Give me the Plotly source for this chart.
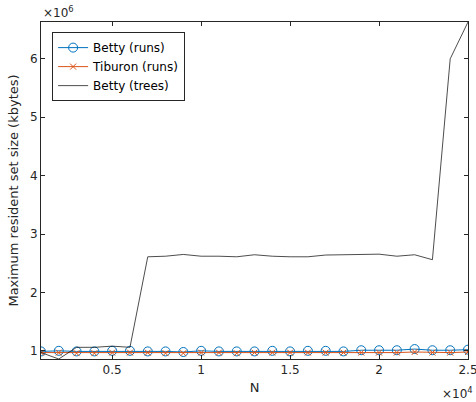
import plotly.graph_objects as go

# Problem sizes
N = [1000, 2000, 3000, 4000, 5000, 6000, 7000, 8000, 9000, 10000,
     11000, 12000, 13000, 14000, 15000, 16000, 17000, 18000, 19000, 20000,
     21000, 22000, 23000, 24000, 25000]

# Maximum resident set size (kbytes)
betty_runs = [0.99e6, 1.00e6, 0.99e6, 0.99e6, 1.00e6, 1.00e6, 0.99e6, 0.99e6, 0.98e6, 1.00e6,
              0.99e6, 0.99e6, 0.99e6, 1.00e6, 0.99e6, 1.00e6, 1.00e6, 0.99e6, 1.01e6, 1.01e6,
              1.01e6, 1.03e6, 1.01e6, 1.01e6, 1.02e6]
tiburon_runs = [0.97e6, 0.97e6, 0.96e6, 0.96e6, 0.97e6, 0.97e6, 0.97e6, 0.96e6, 0.96e6, 0.97e6,
                0.97e6, 0.96e6, 0.97e6, 0.97e6, 0.97e6, 0.97e6, 0.97e6, 0.97e6, 0.97e6, 0.97e6,
                0.97e6, 0.98e6, 0.97e6, 0.97e6, 0.98e6]
betty_trees = [0.97e6, 0.86e6, 1.06e6, 1.06e6, 1.08e6, 1.06e6, 2.61e6, 2.62e6, 2.65e6, 2.62e6,
               2.62e6, 2.61e6, 2.645e6, 2.62e6, 2.61e6, 2.61e6, 2.64e6, 2.645e6, 2.66e6, 2.655e6,
               2.62e6, 2.645e6, 2.56e6, 6.0e6, 6.63e6]

x_tickvals = [5000, 10000, 15000, 20000, 25000]
x_ticktext = ["0.5", "1", "1.5", "2", "2.5"]
y_tickvals = [1e6, 2e6, 3e6, 4e6, 5e6, 6e6]
y_ticktext = ["1", "2", "3", "4", "5", "6"]

BLUE = "#0072BD"
ORANGE = "#D95319"
AX = "#262626"
FONT = "DejaVu Sans"

fig = go.Figure()
fig.add_trace(go.Scatter(
    x=N, y=betty_runs, name="Betty (runs)", mode="lines+markers",
    line=dict(color=BLUE, width=1),
    marker=dict(symbol="circle-open", size=9, color=BLUE, line=dict(width=1, color=BLUE)),
))
fig.add_trace(go.Scatter(
    x=N, y=tiburon_runs, name="Tiburon (runs)", mode="lines+markers",
    line=dict(color=ORANGE, width=1),
    marker=dict(symbol="x-thin-open", size=6, color=ORANGE, line=dict(width=1, color=ORANGE)),
))
fig.add_trace(go.Scatter(
    x=N, y=betty_trees, name="Betty (trees)", mode="lines",
    line=dict(color="#000000", width=0.7),
))

axis_common = dict(
    showline=True, linecolor=AX, linewidth=1, mirror="ticks",
    ticks="inside", ticklen=4, tickcolor=AX, tickwidth=1,
    showgrid=False, zeroline=False,
    tickfont=dict(family=FONT, size=12, color=AX),
    ticklabeloverflow="allow", automargin=False,
)

fig.update_xaxes(
    range=[1000, 25000], tickvals=x_tickvals, ticktext=x_ticktext,
    title=dict(text="N", font=dict(family=FONT, size=13, color=AX), standoff=6),
    **axis_common,
)
fig.update_yaxes(
    range=[0.86e6, 6.63e6], tickvals=y_tickvals, ticktext=y_ticktext,
    title=dict(text="Maximum resident set size (kbytes)", font=dict(family=FONT, size=13, color=AX), standoff=8),
    **axis_common,
)

fig.add_annotation(
    xref="paper", yref="paper", x=0, y=1, xanchor="left", yanchor="bottom",
    text="×10<sup>6</sup>", showarrow=False, font=dict(family=FONT, size=12, color=AX),
    xshift=0, yshift=0,
)
fig.add_annotation(
    xref="paper", yref="paper", x=1, y=0, xanchor="right", yanchor="top",
    text="×10<sup>4</sup>", showarrow=False, font=dict(family=FONT, size=12, color=AX),
    xshift=6, yshift=-25, borderpad=0,
)

fig.update_layout(
    width=476, height=402,
    margin=dict(l=41, r=8, t=22, b=43),
    paper_bgcolor="white", plot_bgcolor="white",
    font=dict(family=FONT, size=12, color=AX),
    legend=dict(
        x=0.026, y=0.97, xanchor="left", yanchor="top",
        bgcolor="white", bordercolor=AX, borderwidth=1,
        font=dict(family=FONT, size=12, color="#000000"),
        tracegroupgap=0, itemwidth=30,
    ),
    showlegend=True,
)

fig.write_html("out.html")
